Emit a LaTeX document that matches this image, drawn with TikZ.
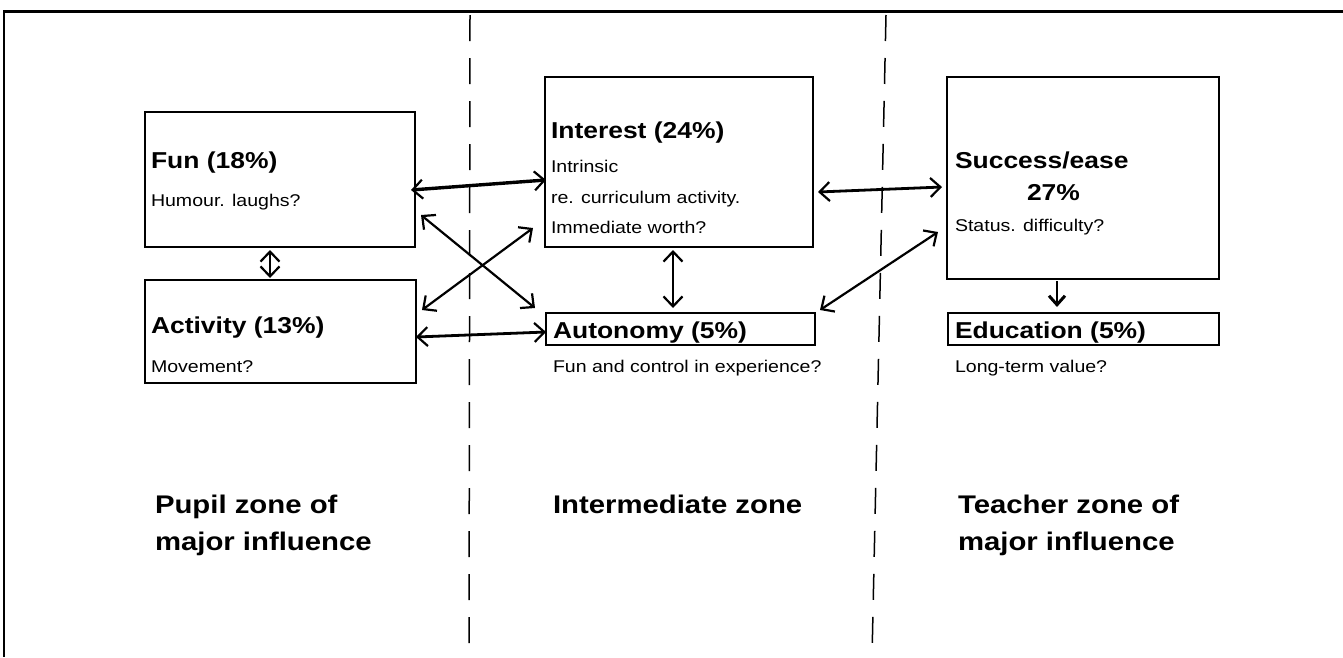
\documentclass[tikz,border=0pt]{standalone}
\usepackage{fontspec}
\setmainfont{Liberation Sans}[FakeStretch=1.15]
\usetikzlibrary{arrows.meta}
\newcommand{\titlefont}{\bfseries\fontsize{23}{27}\selectfont}
\newcommand{\smallfont}{\fontsize{17}{20}\selectfont}
\newcommand{\zonefont}{\bfseries\fontsize{25.5}{30}\selectfont}
\tikzset{
  box/.style={draw, line width=2.8pt, inner sep=0pt, outer sep=0pt},
  txt/.style={anchor=base west, inner sep=0pt, outer sep=0pt},
  ttl/.style={txt, font=\titlefont},
  sml/.style={txt, font=\smallfont},
  zonelbl/.style={txt, font=\zonefont},
  link/.style={line width=2.2pt, {Straight Barb[length=10pt,width=19pt,line width=2.2pt]}-{Straight Barb[length=10pt,width=19pt,line width=2.2pt]}},
  onelink/.style={line width=2.6pt, -{Straight Barb[length=9pt,width=16pt,line width=3pt]}},
  zone/.style={line width=1.5pt, dash pattern=on 26pt off 17pt},
}
\begin{document}
\begin{tikzpicture}[x=1pt,y=-1pt]
\useasboundingbox (0,0) rectangle (1343,657);
% frame
\draw[line width=3pt] (3,11) -- (1343,11);
\draw[line width=2.2pt] (4,10) -- (4,657);
% zone separators
\draw[zone] (470,15) -- (469,657);
\draw[zone] (886,15) -- (872,657);

% boxes
\node[box, minimum width=270pt, minimum height=135pt] (fun) at (280,179.5) {};
\node[box, minimum width=271pt, minimum height=103pt] (activity) at (280.5,331.5) {};
\node[box, minimum width=268pt, minimum height=170pt] (interest) at (679,162) {};
\node[box, minimum width=269pt, minimum height=32pt] (autonomy) at (680.5,329) {};
\node[box, minimum width=272pt, minimum height=202pt] (success) at (1083,178) {};
\node[box, minimum width=271pt, minimum height=32pt] (education) at (1083.5,329) {};

% texts
\node[ttl] (funT) at (151,168) {Fun (18\%)};
\node[sml] (funS) at (151,206) {Humour. laughs?};
\node[ttl] (actT) at (151,333) {Activity (13\%)};
\node[sml] (actS) at (151,372) {Movement?};
\node[ttl] (intT) at (551,138) {Interest (24\%)};
\node[sml] (intS1) at (551,172) {Intrinsic};
\node[sml] (intS2) at (551,203) {re. curriculum activity.};
\node[sml] (intS3) at (551,233) {Immediate worth?};
\node[ttl] (autT) at (553,338) {Autonomy (5\%)};
\node[sml] (autS) at (553,372) {Fun and control in experience?};
\node[ttl] (sucT) at (955,168) {Success/ease};
\node[ttl] (sucP) at (1027,200) {27\%};
\node[sml] (sucS) at (955,231) {Status. difficulty?};
\node[ttl] (eduT) at (955,338) {Education (5\%)};
\node[sml] (eduS) at (955,372) {Long-term value?};

\node[zonelbl] (pup1) at (155,513) {Pupil zone of};
\node[zonelbl] (pup2) at (155,550) {major influence};
\node[zonelbl] (mid) at (553,513) {Intermediate zone};
\node[zonelbl] (tea1) at (958,513) {Teacher zone of};
\node[zonelbl] (tea2) at (958,550) {major influence};

% connectors
\draw[link, line width=3.4pt] ([xshift=-4pt,yshift=-10.5pt]fun.east) -- ([xshift=1pt,yshift=-18pt]interest.west);
\draw[link] ([xshift=6pt,yshift=-35.5pt]fun.east) -- ([xshift=-11pt,yshift=5pt]autonomy.north west);
\draw[link] ([xshift=6pt,yshift=21.5pt]activity.east) -- ([xshift=-12pt,yshift=19pt]interest.south west);
\draw[link, line width=2.8pt] ([xshift=0pt,yshift=-5.5pt]activity.east) -- ([xshift=0pt,yshift=-3pt]autonomy.west);
\draw[link, line width=1.8pt] ([xshift=-10pt,yshift=-3pt]fun.south) -- ([xshift=-10.5pt,yshift=2pt]activity.north);
\draw[link, line width=1.8pt] ([xshift=-6pt,yshift=-3pt]interest.south) -- ([xshift=-7.5pt,yshift=5pt]autonomy.north);
\draw[link, line width=2.8pt] ([xshift=5pt,yshift=-30pt]interest.east) -- ([xshift=-5pt,yshift=-9pt]success.west);
\draw[link] ([xshift=5pt,yshift=3pt]autonomy.north east) -- ([xshift=-9pt,yshift=-54pt]success.west);
\draw[onelink] ([xshift=-26pt,yshift=-2pt]success.south) -- ([xshift=-26.5pt,yshift=6pt]education.north);
\end{tikzpicture}
\end{document}
